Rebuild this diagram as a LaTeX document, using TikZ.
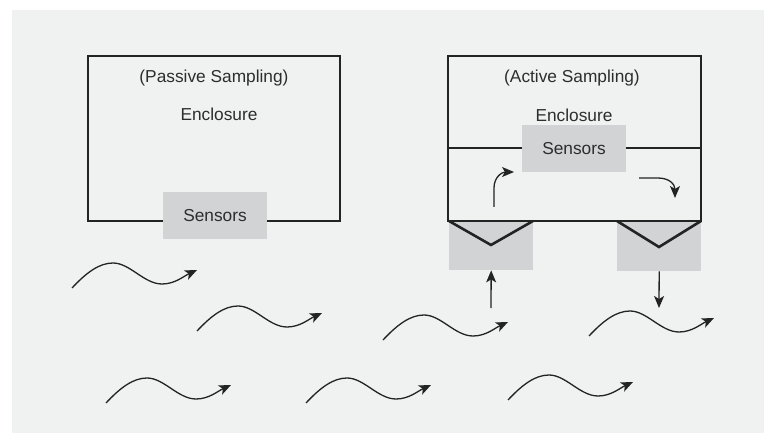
\documentclass[tikz,border=0pt]{standalone}
\usepackage{fontspec}
\setmainfont{Liberation Sans}
\usetikzlibrary{arrows.meta}
\definecolor{bg}{RGB}{240,241,241}
\definecolor{box}{RGB}{210,211,213}
\definecolor{ink}{RGB}{35,35,35}
\definecolor{txt}{RGB}{45,45,45}
\tikzset{
  wall/.style={draw=ink, line width=2.6pt},
  sbox/.style={fill=box, draw=none, inner sep=0pt, minimum width=104pt, minimum height=47pt, text=txt, font=\fontsize{17.3}{19}\selectfont},
  portbox/.style={fill=box, draw=none, inner sep=0pt, minimum width=84pt, minimum height=49pt},
  lbl/.style={text=txt, font=\fontsize{17.3}{19}\selectfont, inner sep=0pt},
  flow/.style={draw=ink, line width=1.3pt, -{Stealth[length=12pt, width=10pt, inset=3pt]}},
  wave/.pic={\draw[flow] (0,0) .. controls (14,-15) and (27,-25) .. (41,-25)
      .. controls (58,-25) and (72,-4) .. (90,-4)
      .. controls (103,-4) and (112,-12) .. (125,-18);}
}
\begin{document}
\begin{tikzpicture}[x=1pt,y=-1pt]
\useasboundingbox (0,0) rectangle (764,433);
\fill[bg] (12,10) rectangle (764,433);
% passive enclosure
\draw[wall] (88,56) rectangle (340,221);
\node[lbl] (ptitle) at (214,78) {(Passive Sampling)};
\node[lbl] (pencl) at (219,114) {Enclosure};
\node[sbox] (psens) at (215,215.5) {Sensors};
% active enclosure
\draw[wall] (448,56) rectangle (701,221);
\draw[wall] (448,148) -- (701,148);
\node[lbl] (atitle) at (572,78) {(Active Sampling)};
\node[lbl] (aencl) at (574,115) {Enclosure};
\node[sbox] (asens) at (574,148.5) {Sensors};
% ports
\node[portbox, anchor=north west] (inlet) at (449,221) {};
\node[portbox, anchor=north west, minimum height=50pt] (outlet) at (617,221) {};
\draw[wall, line join=miter] (449,221) -- (491,245) -- (533,221);
\draw[wall, line join=miter] (617,221) -- (659,247) -- (701,221);
\draw[wall] (448,221) -- (701,221);
% flow arrows
\coordinate (inbot) at (491,308);
\coordinate (outbot) at (659,308);
\draw[flow] (inbot) -- (inlet.south);
\draw[flow] (outlet.south) -- (outbot);
\coordinate (ia) at (494,207);
\coordinate (ib) at (514,172);
\draw[flow] (ia) -- (494,188) .. controls (494,177) and (502,172) .. (ib);
\coordinate (oa) at (639,178);
\coordinate (ob) at (675,198);
\draw[flow] (oa) -- (658,178) .. controls (669,178) and (675,184) .. (ob);
% waves
\pic at (72,288) {wave};
\pic at (197,331) {wave};
\pic at (106,403) {wave};
\pic at (306,403) {wave};
\pic at (383,340) {wave};
\pic at (589,336) {wave};
\pic at (508,400) {wave};
\end{tikzpicture}
\end{document}
